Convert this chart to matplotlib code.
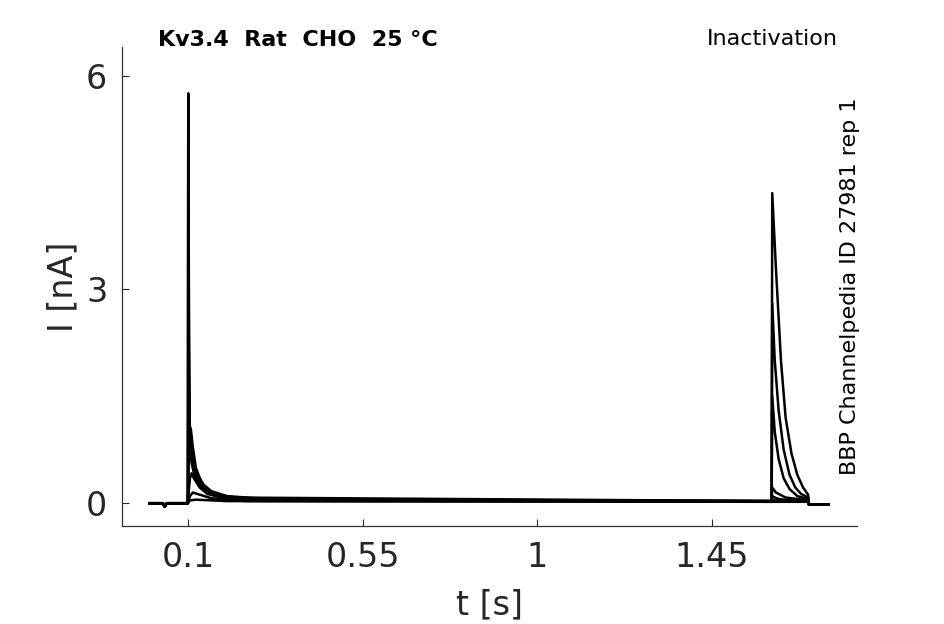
import matplotlib
matplotlib.use("Agg")
import matplotlib.pyplot as plt

# prepulse part of each trace (time in s, current in nA)
pre_t = [
    [0.0995, 0.1005, 0.1025, 0.1045, 0.108, 0.115, 0.125, 0.140, 0.160, 0.200, 0.300, 0.600, 1.604],
    [0.0995, 0.1005, 0.1025, 0.1045, 0.108, 0.115, 0.125, 0.140, 0.160, 0.200, 0.300, 1.604],
    [0.0995, 0.1010, 0.1035, 0.108, 0.115, 0.125, 0.140, 0.170, 0.250, 1.604],
    [0.0995, 0.1005, 0.104, 0.107, 0.112, 0.120, 0.135, 0.160, 0.200, 1.604],
    [0.0995, 0.1005, 0.105, 0.109, 0.115, 0.130, 0.150, 0.200, 1.604],
    [0.0995, 0.1050, 0.112, 0.130, 0.160, 0.250, 1.604],
    [0.0995, 0.1050, 0.120, 0.200, 1.604],
]
pre_i = [
    [0.0, 5.75, 2.4, 1.1, 0.75, 0.55, 0.40, 0.26, 0.17, 0.10, 0.06, 0.04, 0.03],
    [0.0, 5.10, 2.0, 0.95, 0.65, 0.48, 0.34, 0.22, 0.14, 0.09, 0.05, 0.03],
    [0.0, 1.80, 0.9, 0.60, 0.42, 0.30, 0.20, 0.12, 0.06, 0.03],
    [0.0, 0.30, 0.90, 1.05, 0.80, 0.50, 0.28, 0.15, 0.08, 0.03],
    [0.0, 0.10, 0.35, 0.42, 0.35, 0.22, 0.13, 0.06, 0.02],
    [0.0, 0.10, 0.15, 0.12, 0.07, 0.03, 0.02],
    [0.0, 0.04, 0.05, 0.03, 0.02],
]

# test pulse part of each trace
test_t = [
    [1.6055, 1.612, 1.622, 1.635, 1.650, 1.665, 1.680, 1.698],
    [1.6055, 1.612, 1.622, 1.635, 1.650, 1.665, 1.680, 1.698],
    [1.6055, 1.612, 1.622, 1.635, 1.650, 1.670, 1.698],
    [1.6055, 1.615, 1.640, 1.698],
    [1.6055, 1.612, 1.622, 1.635, 1.650, 1.670, 1.698],
    [1.6055, 1.612, 1.622, 1.635, 1.650, 1.665, 1.680, 1.698],
    [1.6055, 1.615, 1.628, 1.640, 1.655, 1.670, 1.685, 1.698],
]
test_i = [
    [0.02, 0.02, 0.02, 0.02, 0.02, 0.02, 0.02, 0.02],
    [0.05, 0.04, 0.04, 0.03, 0.03, 0.03, 0.03, 0.03],
    [0.10, 0.08, 0.06, 0.05, 0.04, 0.03, 0.03],
    [0.22, 0.15, 0.08, 0.04],
    [1.50, 1.00, 0.62, 0.35, 0.20, 0.10, 0.06],
    [2.80, 2.00, 1.30, 0.75, 0.40, 0.22, 0.13, 0.08],
    [4.35, 3.30, 2.00, 1.20, 0.70, 0.40, 0.22, 0.12],
]

base_t = [0.0, 0.035, 0.040, 0.045]
base_i = [0.0, 0.0, -0.05, 0.0]
end_t = [1.700, 1.750]
end_i = [-0.02, -0.02]

xticks = [0.1, 0.55, 1, 1.45]
xticklabels = ["0.1", "0.55", "1", "1.45"]
yticks = [0, 3, 6]

fig = plt.figure(figsize=(9.45, 6.24), dpi=100)
ax = fig.add_axes([0.1296, 0.157, 0.7773, 0.7677])

for k in range(len(pre_t)):
    t = base_t + pre_t[k] + test_t[k] + end_t
    i = base_i + pre_i[k] + test_i[k] + end_i
    ax.plot(t, i, color="black", lw=1.8)

ax.set_xlim(-0.069, 1.824)
ax.set_ylim(-0.32, 6.40)
ax.set_xticks(xticks)
ax.set_xticklabels(xticklabels)
ax.set_yticks(yticks)
ax.tick_params(direction="in", length=5, width=0.8, pad=11,
               labelsize=24, colors="#262626")
for s in ["top", "right"]:
    ax.spines[s].set_visible(False)
for s in ["left", "bottom"]:
    ax.spines[s].set_color("#333333")
    ax.spines[s].set_linewidth(0.9)

ax.set_xlabel("t [s]", fontsize=24, color="#262626", labelpad=10)
ax.set_ylabel("I [nA]", fontsize=24, color="#262626", labelpad=5)

fig.text(0.167, 0.936, "Kv3.4  Rat  CHO  25 °C", fontsize=16,
         fontweight="bold", ha="left", va="center")
fig.text(0.887, 0.938, "Inactivation", fontsize=16, ha="right", va="center")
fig.text(0.900, 0.239, "BBP Channelpedia ID 27981 rep 1", fontsize=16,
         rotation=90, ha="center", va="bottom")

fig.savefig("out.png", dpi=100)
